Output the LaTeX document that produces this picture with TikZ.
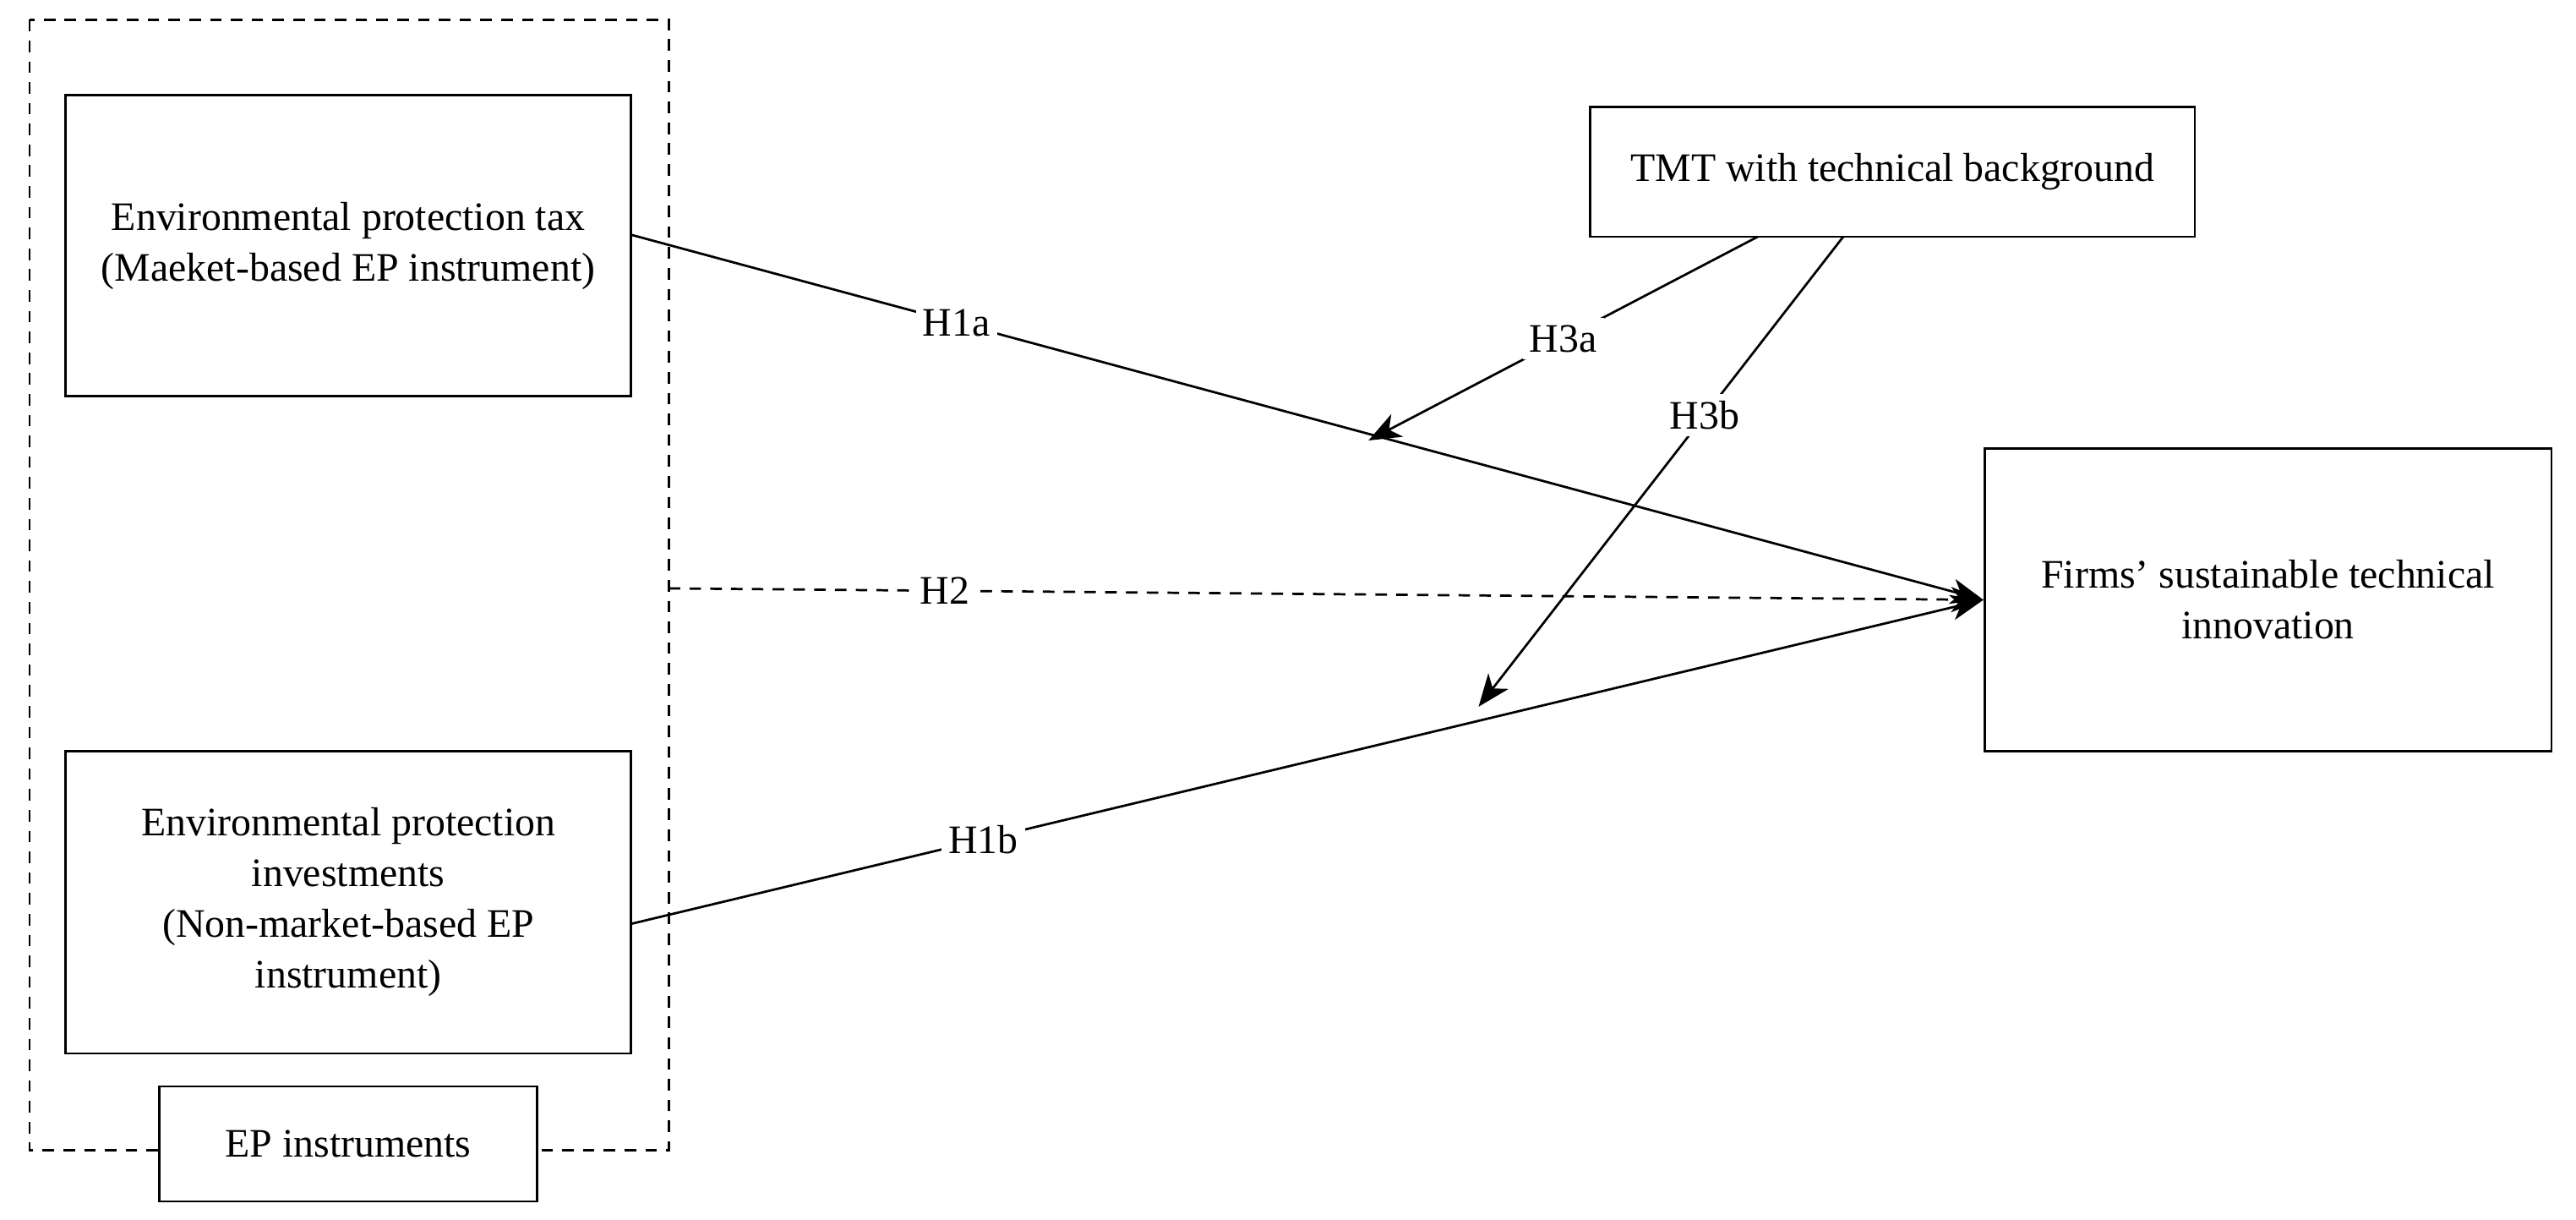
\documentclass[tikz,border=0pt]{standalone}
\usepackage{fontspec}
\setmainfont{Liberation Serif}
\usetikzlibrary{arrows.meta}
\begin{document}
\begin{tikzpicture}[x=0.5mm,y=-0.5mm,
  box/.style={draw,line width=2pt,align=center,inner sep=0pt},
  con/.style={line width=2pt},
  arr/.style={con,-{Stealth[length=28pt,width=22pt,inset=8pt]}},
  lab/.style={fill=white,inner sep=6pt},
  every node/.style={font=\fontsize{35}{44}\selectfont}]
\useasboundingbox[fill=white] (0,0) rectangle (1568,742);
\draw[dashed,line width=2pt,dash pattern=on 10pt off 8pt] (18,12) rectangle (407,700);
\node[box,minimum width=172mm,minimum height=91.5mm] (tax) at (212,149.5) {Environmental protection tax\\(Maeket-based EP instrument)};
\node[box,minimum width=172mm,minimum height=92mm] (inv) at (212,549) {Environmental protection\\investments\\(Non-market-based EP\\instrument)};
\node[box,fill=white,minimum width=115mm,minimum height=35mm] (ep) at (212,696) {EP instruments};
\node[box,minimum width=184mm,minimum height=39.5mm] (tmt) at (1152,104.5) {TMT with technical background};
\node[box,minimum width=172.5mm,minimum height=92mm] (fir) at (1380.5,365) {Firms' sustainable technical\\innovation};
\coordinate (h2s) at (407,358);
\coordinate (t1) at (1070,144);
\coordinate (t2) at (1122,144);
\coordinate (a1) at (833,268);
\coordinate (a2) at (900,430);
\draw[arr] (tax.east |- 0,143) -- node[lab,pos=0.24]{H1a} (fir.west);
\draw[arr] (inv.east |- 0,562) -- node[lab,pos=0.26]{H1b} (fir.west);
\draw[arr,dashed,dash pattern=on 10pt off 8pt] (h2s) -- node[lab,pos=0.21]{H2} (fir.west);
\draw[arr] (t1) -- node[lab,pos=0.5]{H3a} (a1);
\draw[arr] (t2) -- node[lab,pos=0.38]{H3b} (a2);
\end{tikzpicture}
\end{document}
